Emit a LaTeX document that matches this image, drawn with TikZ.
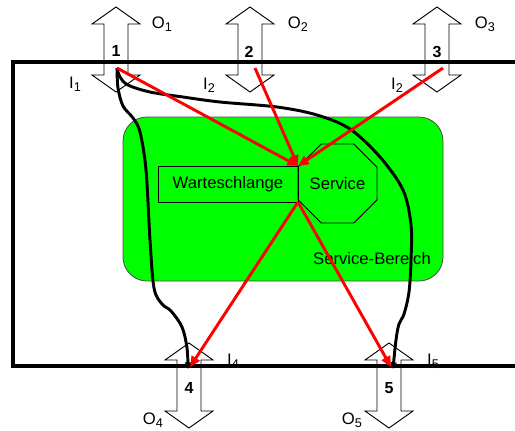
\documentclass[tikz,border=0pt]{standalone}
\usepackage{fontspec}
\setmainfont{Liberation Sans}
\usetikzlibrary{shapes.geometric,arrows.meta}
\newcommand{\lsub}[1]{\raisebox{-2.5pt}{\fontsize{9.5}{10}\selectfont #1}}
\newcommand{\dblarr}[2]{%
  \draw[dblarrow] (#1,#2) -- ++(24,17) -- ++(-12,0) -- ++(0,51) -- ++(12,0)
    -- ++(-24,17) -- ++(-24,-17) -- ++(12,0) -- ++(0,-51) -- ++(-12,0) -- cycle;}
\begin{document}
\begin{tikzpicture}[x=0.75pt,y=-0.75pt,
  dblarrow/.style={draw=black,line width=0.7pt,line join=miter},
  frame/.style={draw=black,line width=2.6pt},
  flow/.style={draw=black,line width=2.2pt,-{Triangle[length=5pt,width=4.5pt]}},
  redarrow/.style={draw=red,line width=2.2pt,-{Triangle[length=8pt,width=7pt]}},
  lbl/.style={font=\fontsize{12.5}{14}\selectfont,inner sep=0pt},
  num/.style={font=\fontsize{12}{14}\selectfont\bfseries,inner sep=0pt},
  box/.style={draw=black,line width=0.7pt,font=\fontsize{12.5}{14}\selectfont,inner sep=0pt,outer sep=0pt}]
\clip (0,0) rectangle (515,430);
% service area
\node[draw=black!70,line width=0.6pt,fill=green,rounded corners=18pt,
  minimum width=240pt,minimum height=123pt,inner sep=0pt] (area) at (283,199) {};
\node[lbl] (areatxt) at (372,259) {Service-Bereich};
\node[box,minimum width=105pt,minimum height=27pt] (queue) at (228,184) {Warteschlange};
\node[box,regular polygon,regular polygon sides=8,minimum size=64.1pt] (service) at (337.5,183.5) {Service};
% double arrows
\dblarr{116}{7}
\dblarr{250}{7}
\dblarr{437}{7}
\dblarr{189}{343}
\dblarr{389}{343}
% frame
\draw[frame] (530,62) -- (13,62) -- (13,366) -- (530,366);
% points
\coordinate (p1) at (117,68);
\coordinate (p2) at (255,68);
\coordinate (p3) at (443,68);
\coordinate (p4) at (190,367);
\coordinate (p5) at (391,367);
\coordinate (p4b) at (188,369);
\coordinate (p5b) at (393,369);
% black curves
\draw[flow] plot[smooth,tension=0.55] coordinates {(p1) (118,88) (123,106) (133,118) (140,132) (146,170) (150,240) (154,288) (162,304) (171,311) (182,327) (187,348) (p4b)};
\draw[flow] plot[smooth,tension=0.55] coordinates {(p1) (120,77) (128,85) (150,92) (183,97) (220,102) (277,107) (317,115) (350,129) (380,157) (403,190) (411,225) (411,260) (409,292) (404,314) (399,324) (396,340) (p5b)};
% red arrows
\draw[redarrow] (p1) -- (queue.north east);
\draw[redarrow] (p2) -- (queue.north east);
\draw[redarrow] (p3) -- (queue.north east);
\draw[redarrow] (queue.south east) -- (p4);
\draw[redarrow] (queue.south east) -- (p5);
% labels
\node[num] (n1) at (116,51) {1};
\node[num] (n2) at (249,52) {2};
\node[num] (n3) at (437,52) {3};
\node[num] (n4) at (189,388) {4};
\node[num] (n5) at (389,388) {5};
\node[lbl] (o1) at (162,24) {O\lsub{1}};
\node[lbl] (o2) at (298,24) {O\lsub{2}};
\node[lbl] (o3) at (485,24) {O\lsub{3}};
\node[lbl] (o4) at (153,420) {O\lsub{4}};
\node[lbl] (o5) at (352,420) {O\lsub{5}};
\node[lbl] (i1) at (75,84) {I\lsub{1}};
\node[lbl] (i2a) at (209,85) {I\lsub{2}};
\node[lbl] (i2b) at (397,85) {I\lsub{2}};
\node[lbl] (i4) at (233,361) {I\lsub{4}};
\node[lbl] (i5) at (433,361) {I\lsub{5}};
\end{tikzpicture}
\end{document}
